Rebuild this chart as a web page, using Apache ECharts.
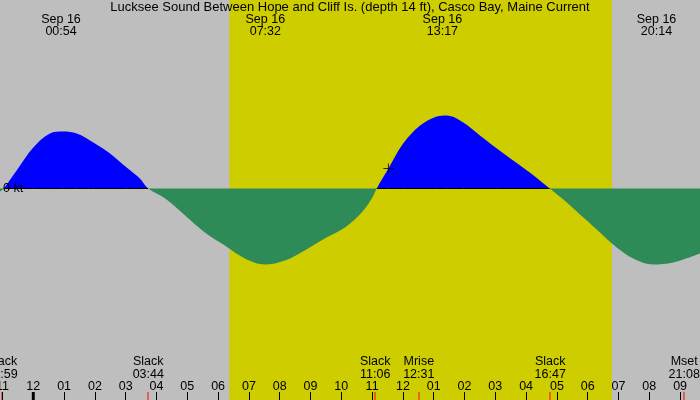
<!DOCTYPE html>
<html>
<head>
<meta charset="utf-8">
<script src="https://cdn.jsdelivr.net/npm/echarts@6/dist/echarts.min.js"></script>
<style>
  html, body { margin: 0; padding: 0; background: #bebebe; }
  #chart { width: 700px; height: 400px; }
</style>
</head>
<body>
<div id="chart"></div>
<script>
// Lucksee Sound tidal current, Sep 16 — x is hours counted from midnight of Sep 16

const titleText = 'Lucksee Sound Between Hope and Cliff Is. (depth 14 ft), Casco Bay, Maine Current';

// current speed (kt, + = flood, - = ebb)
const hours = [-1.08, -0.96, -0.54, 0, 0.54, 0.97, 1.41, 1.95, 2.49, 3.03, 3.46, 3.73,
  4.28, 4.93, 5.57, 6.22, 6.87, 7.52, 8.17, 8.81, 9.46, 10.12, 10.66, 10.99, 11.15,
  11.53, 12.01, 12.56, 13.10, 13.42, 13.96, 14.50, 15.05, 15.58, 16.12, 16.77,
  17.32, 17.86, 18.40, 18.94, 19.48, 20.13, 20.78, 21.65];
const knots = [-0.03, 0, 0.18, 0.41, 0.55, 0.57, 0.55, 0.46, 0.35, 0.21, 0.10, 0,
  -0.10, -0.27, -0.44, -0.57, -0.70, -0.76, -0.72, -0.62, -0.50, -0.39, -0.24, -0.10, 0,
  0.20, 0.45, 0.63, 0.72, 0.73, 0.66, 0.53, 0.40, 0.28, 0.16, 0,
  -0.14, -0.29, -0.44, -0.59, -0.70, -0.76, -0.74, -0.65];

// max flood / ebb labels at the top
const maxDates = ['Sep 16', 'Sep 16', 'Sep 16', 'Sep 16'];
const maxTimes = ['00:54', '07:32', '13:17', '20:14'];

// slack and moon events at the bottom (day offset -1 = Sep 15)
const eventNames = ['Slack', 'Slack', 'Slack', 'Mrise', 'Slack', 'Mset'];
const eventTimes = ['22:59', '03:44', '11:06', '12:31', '16:47', '21:08'];
const eventDays = [-1, 0, 0, 0, 0, 0];

const sunTimes = ['06:22', '18:47'];   // sunrise, sunset
const nowMark = [11.53, 0.20];          // the small + marker
const hourTicks = [-1, 0, 1, 2, 3, 4, 5, 6, 7, 8, 9, 10, 11, 12, 13, 14, 15, 16, 17, 18, 19, 20, 21];
const midnightTicks = [0];

const xMin = -1.081, xMax = 21.646;
const yMin = -2.115, yMax = 1.885;

const FAMILY = '"Liberation Sans", Arial, sans-serif';
const FONT = '12.5px ' + FAMILY;
const FLOOD = '#0000ff', EBB = '#2e8b57';

function toHour(t, day) {
  const [hh, mm] = t.split(':').map(Number);
  return hh + mm / 60 + 24 * (day || 0);
}

function hourLabel(h) {
  const v = ((h % 12) + 12) % 12 || 12;
  return String(v).padStart(2, '0');
}

const current = hours.map((h, i) => [h, knots[i]]);
const zeroLine = hours.map((h, i) => [h, knots[i] >= 0 ? 0 : '-']);

// hard colour split at the zero line (grid fills the whole canvas)
const zeroAt = yMax / (yMax - yMin);
const splitFill = {
  type: 'linear', x: 0, y: 0, x2: 0, y2: 1,
  colorStops: [
    { offset: 0, color: FLOOD }, { offset: zeroAt, color: FLOOD },
    { offset: zeroAt, color: EBB }, { offset: 1, color: EBB }
  ]
};

const chart = echarts.init(document.getElementById('chart'));
splitFill.y2 = chart.getHeight();
splitFill.global = true;

chart.setOption({
  backgroundColor: '#bebebe',
  animation: false,
  title: {
    text: titleText, left: 'center', top: 1, padding: 0,
    textStyle: { fontFamily: FAMILY, fontSize: 13, fontWeight: 'normal', color: '#000' }
  },
  grid: { left: 0, right: 0, top: 0, bottom: 0, outerBoundsMode: 'none', containLabel: false },
  xAxis: {
    type: 'value', min: xMin, max: xMax, z: 10,
    axisLine: { show: false, onZero: false },
    splitLine: { show: false },
    axisTick: { show: true, inside: true, length: 8, customValues: hourTicks, lineStyle: { color: '#000', width: 1 } },
    axisLabel: {
      show: true, inside: true, margin: 7, customValues: hourTicks,
      showMinLabel: true, showMaxLabel: true, hideOverlap: false,
      formatter: v => hourLabel(v),
      fontFamily: FAMILY, fontSize: 12.5, color: '#000'
    }
  },
  yAxis: {
    type: 'value', min: yMin, max: yMax, z: 10,
    axisLine: { show: false }, axisTick: { show: false }, splitLine: { show: false },
    axisLabel: {
      show: true, inside: true, margin: 3, customValues: [0],
      formatter: '{value} kt',
      fontFamily: FAMILY, fontSize: 12.5, color: '#000'
    }
  },
  series: [
    {
      // daylight band
      type: 'line', data: [], z: 0, silent: true,
      markArea: {
        silent: true,
        itemStyle: { color: '#cdcd00' },
        data: [[{ xAxis: toHour(sunTimes[0]) }, { xAxis: toHour(sunTimes[1]) }]]
      }
    },
    {
      name: 'current', type: 'line', data: current, z: 2,
      smooth: 0.35, symbol: 'none',
      lineStyle: { width: 0 }, areaStyle: { color: splitFill, opacity: 1 }
    },
    {
      name: 'zero', type: 'line', data: zeroLine, z: 3, symbol: 'none',
      lineStyle: { color: '#000', width: 1 }
    },
    {
      name: 'now', type: 'scatter', data: [nowMark], z: 5,
      symbol: 'path://M4.5,0H5.5V4.5H10V5.5H5.5V10H4.5V5.5H0V4.5H4.5Z', symbolSize: 10,
      itemStyle: { color: '#000' }
    },
    {
      // red ticks at events
      type: 'custom', z: 6,
      data: eventTimes.map((t, i) => [toHour(t, eventDays[i]), 0]),
      renderItem: (params, api) => {
        const x = api.coord([api.value(0), 0])[0];
        const H = api.getHeight();
        return { type: 'rect', shape: { x: Math.round(x) - 0.5, y: H - 8, width: 1, height: 8 }, style: { fill: '#ff0000' } };
      }
    },
    {
      // heavy tick at midnight
      type: 'custom', z: 6,
      data: midnightTicks.map(h => [h, 0]),
      renderItem: (params, api) => {
        const x = api.coord([api.value(0), 0])[0];
        const H = api.getHeight();
        return { type: 'rect', shape: { x: x - 1.5, y: H - 8, width: 3, height: 8 }, style: { fill: '#000' } };
      }
    },
    {
      // max current labels at the top
      type: 'custom', z: 7,
      data: maxTimes.map((t, i) => [toHour(t), i]),
      renderItem: (params, api) => {
        const x = api.coord([api.value(0), 0])[0];
        const i = api.value(1);
        return {
          type: 'text', x: x, y: 26,
          style: { text: maxDates[i] + '\n' + maxTimes[i], align: 'center', verticalAlign: 'middle', font: FONT, lineHeight: 12, fill: '#000' }
        };
      }
    },
    {
      // event labels at the bottom
      type: 'custom', z: 7,
      data: eventTimes.map((t, i) => [toHour(t, eventDays[i]), i]),
      renderItem: (params, api) => {
        const x = api.coord([api.value(0), 0])[0];
        const i = api.value(1);
        return {
          type: 'text', x: x, y: 368.5,
          style: { text: eventNames[i] + '\n' + eventTimes[i], align: 'center', verticalAlign: 'middle', font: FONT, lineHeight: 13, fill: '#000' }
        };
      }
    }
  ]
});
</script>
</body>
</html>
